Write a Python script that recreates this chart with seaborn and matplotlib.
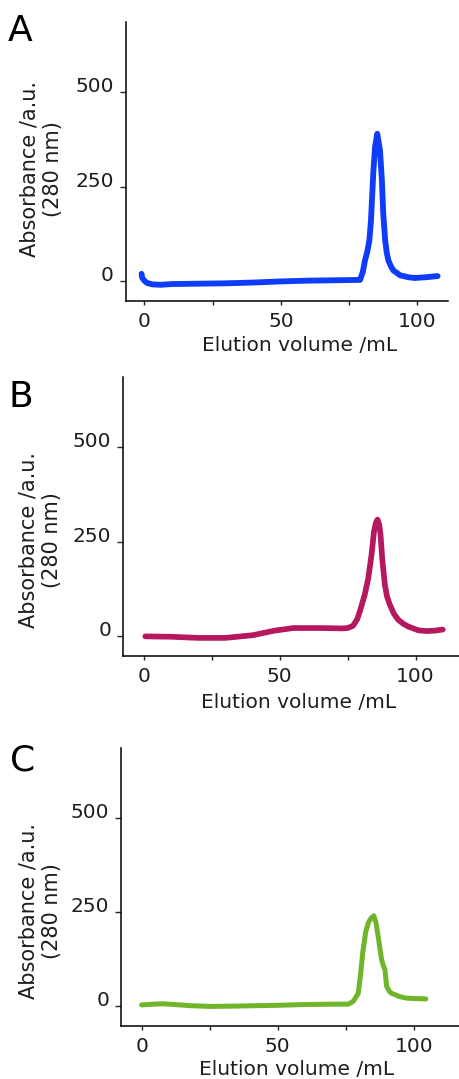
import matplotlib
matplotlib.use("Agg")
import matplotlib.pyplot as plt
import seaborn as sns

# elution profiles (volume in mL, absorbance in a.u.)
vol_a = [-1, -0.8, 0, 1, 3, 6, 10, 20, 30, 40, 50, 60, 70, 79, 80, 80.8, 81.7,
         82.4, 83.0, 83.3, 83.9, 84.5, 85.3, 86.3, 87, 87.5, 88.2, 88.8, 89.4,
         90.3, 91.2, 93.7, 96.7, 99, 103, 107.4]
abs_a = [20, 10, 2, -4, -8, -9, -7, -6, -5, -3, 0, 2, 3, 4, 25, 55, 80,
         108, 160, 205, 293, 355, 390, 346, 267, 179, 108, 75, 55,
         40, 29, 16, 11, 9, 11, 14]

vol_b = [0.5, 10, 20, 30, 40, 48, 55, 65, 73, 75, 77, 78.5, 79.5, 81.3, 82.6,
         83.8, 84.7, 85.4, 86, 86.6, 87.1, 87.7, 88.7, 89.5, 90.5, 92,
         93.6, 95.5, 97.3, 101, 104, 107, 110]
abs_b = [0, -1, -4, -4, 3, 15, 22, 22, 21, 22, 28, 45, 66, 110, 154,
         216, 277, 300, 308, 295, 269, 207, 136, 105, 84, 60,
         44, 33, 26, 16, 14, 15, 18]

vol_c = [0, 4, 8, 12, 18, 25, 35, 50, 60, 70, 76, 77.8, 79.6, 80.5, 81.2, 82.3,
         83.3, 84.3, 85.3, 86.1, 86.9, 87.6, 88.2, 88.8, 89.4, 90, 91, 91.8,
         94.8, 97.3, 100, 104.4]
abs_c = [4, 6, 7, 5, 2, 0, 1, 3, 5, 6, 6, 14, 35, 90, 141, 197,
         222, 234, 240, 222, 185, 150, 123, 108, 97, 53, 40, 35,
         26, 22, 21, 20]

panel_letters = ["A", "B", "C"]
line_colors = ["#0f3cf8", "#b5185e", "#6fb52a"]
y_ticks = [0, 250, 500]
x_ticks = [0, 50, 100]
x_minor = [25, 75]

sns.set_style("ticks")
plt.rcParams["font.family"] = ["DejaVu Sans"]

fig = plt.figure(figsize=(4.59, 10.79), dpi=100)

# axes boxes [left, bottom, width, height] and x ranges per panel
boxes = [[0.2739, 0.7213, 0.7015, 0.2583],
         [0.2686, 0.3923, 0.7350, 0.2586],
         [0.2636, 0.0494, 0.7400, 0.2576]]
xlims = [(-6.8, 111.1), (-7.6, 116.6), (-7.6, 117.2)]
ylab_pos = [(-0.195, 0.4726), (-0.183, 0.4147), (-0.175, 0.413)]
xlab_y = [-0.128, -0.134, -0.122]
letter_pos = [(0.017, 0.9623), (0.0196, 0.6231), (0.021, 0.2859)]

data = [(vol_a, abs_a), (vol_b, abs_b), (vol_c, abs_c)]
widths = [4.2, 4.1, 3.6]
text_col = "#1e1e1e"

for i, (vol, ab) in enumerate(data):
    ax = fig.add_axes(boxes[i])
    sns.lineplot(x=vol, y=ab, ax=ax, color=line_colors[i], lw=widths[i],
                 solid_capstyle="round", solid_joinstyle="round")
    ax.set_xlim(*xlims[i])
    ax.set_ylim(-51, 685)
    ax.set_xticks(x_ticks)
    ax.set_xticks(x_minor, minor=True)
    ax.set_yticks(y_ticks)
    ax.set_xticklabels([str(t) for t in x_ticks])
    ax.set_yticklabels([str(t) for t in y_ticks])
    plt.setp(ax.get_yticklabels(), va="baseline")
    sns.despine(ax=ax)
    for s in ["left", "bottom"]:
        ax.spines[s].set_linewidth(1.1)
        ax.spines[s].set_color("black")
    ax.tick_params(axis="y", length=4, width=1, pad=4.5, labelsize=14.5,
                   labelcolor=text_col)
    ax.tick_params(axis="x", which="both", length=3, width=1, pad=5,
                   labelsize=14.5, labelcolor=text_col)

    ax.set_xlabel("Elution volume /mL", fontsize=14.5, color=text_col)
    xl = xlims[i]
    ax.xaxis.set_label_coords((57 - xl[0]) / (xl[1] - xl[0]), xlab_y[i])
    ax.set_ylabel("Absorbance /a.u.\n(280 nm)", fontsize=15, color=text_col,
                  multialignment="center", linespacing=1.2)
    ax.yaxis.set_label_coords(*ylab_pos[i])

    fig.text(letter_pos[i][0], letter_pos[i][1], panel_letters[i],
             fontsize=26, va="baseline", ha="left", color="black")

fig.savefig("out.png", dpi=100)
